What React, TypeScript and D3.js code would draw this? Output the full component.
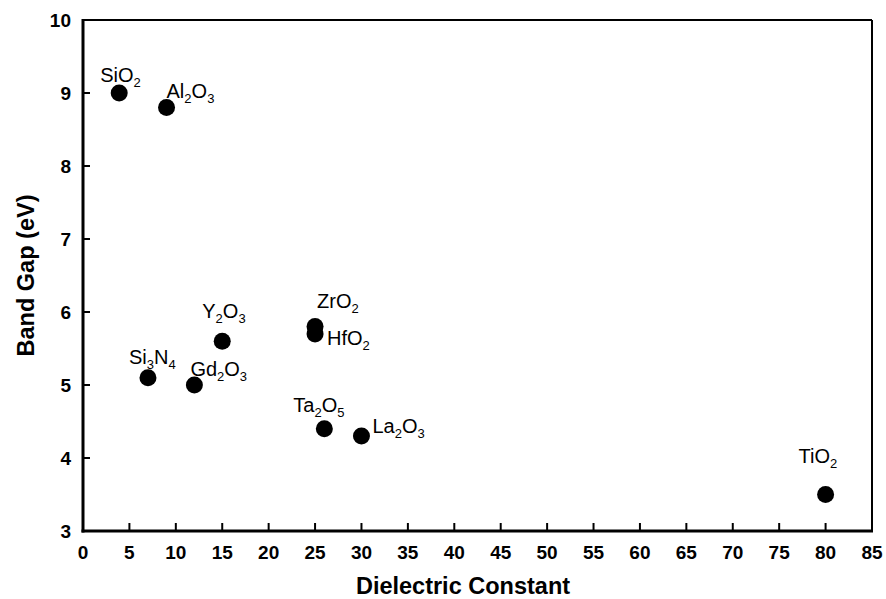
import React from 'react';
import * as d3 from 'd3';

// values
const materials = ['SiO2', 'Al2O3', 'Si3N4', 'Gd2O3', 'Y2O3', 'ZrO2', 'HfO2', 'Ta2O5', 'La2O3', 'TiO2'];
const dielectric = [3.9, 9, 7, 12, 15, 25, 25, 26, 30, 80];
const bandGap = [9.0, 8.8, 5.1, 5.0, 5.6, 5.8, 5.7, 4.4, 4.3, 3.5];
const xTicks = d3.range(0, 86, 5);
const yTicks = d3.range(3, 11, 1);

// label placement relative to each point (px)
const labelOffsets: [number, number][] = [
  [-19, -11], [0, -10], [-19, -14], [-4, -9], [-20, -23],
  [2, -19], [12, 11], [-31, -17], [11, -3], [-27, -32],
];

const width = 886;
const height = 599;
const margin = { top: 20, right: 14, bottom: 68, left: 83 };
const font = 'Arial, "Liberation Sans", sans-serif';

// split "Al2O3" into [text, isSub] runs
const parts = (s: string) => (s.match(/\d+|\D+/g) || []).map(p => [p, /\d/.test(p)] as [string, boolean]);

const Formula = ({ name, x, y }: { name: string; x: number; y: number }) => {
  const runs = parts(name);
  let shift = 0;
  return (
    <text x={x} y={y} fontFamily={font} fontSize={20} fill="#000">
      {runs.map(([t, sub], i) => {
        const target = sub ? 5 : 0;
        const dy = target - shift;
        shift = target;
        return (
          <tspan key={i} dy={dy} fontSize={sub ? 13 : 20}>{t}</tspan>
        );
      })}
    </text>
  );
};

const App = () => {
  const x = d3.scaleLinear().domain([0, 85]).range([margin.left, width - margin.right]);
  const y = d3.scaleLinear().domain([3, 10]).range([height - margin.bottom, margin.top]);
  const [x0, x1] = x.range();
  const [y0, y1] = y.range();

  return (
    <svg width={width} height={height} style={{ position: 'absolute', left: 0, top: 0, background: '#fff' }}>
      {/* frame */}
      <line x1={x0} x2={x1} y1={y1} y2={y1} stroke="#000" strokeWidth={2} />
      <line x1={x1} x2={x1} y1={y1} y2={y0} stroke="#000" strokeWidth={2} />
      <line x1={x0} x2={x0} y1={y1 - 1} y2={y0 + 1.5} stroke="#000" strokeWidth={3} />
      <line x1={x0 - 1.5} x2={x1 + 1} y1={y0} y2={y0} stroke="#000" strokeWidth={3} />

      {/* x ticks */}
      {xTicks.map(t => (
        <g key={'x' + t}>
          {t > 0 && t < 85 && (
            <line x1={x(t)} x2={x(t)} y1={y0} y2={y0 - 8} stroke="#000" strokeWidth={2} />
          )}
          <text x={x(t)} y={y0 + 28} textAnchor="middle" fontFamily={font} fontWeight="bold" fontSize={19}>
            {t}
          </text>
        </g>
      ))}

      {/* y ticks */}
      {yTicks.map(t => (
        <g key={'y' + t}>
          {t > 3 && t < 10 && (
            <line x1={x0} x2={x0 + 7} y1={y(t)} y2={y(t)} stroke="#000" strokeWidth={2} />
          )}
          <text x={71} y={y(t)} dy="0.36em" textAnchor="end" fontFamily={font} fontWeight="bold" fontSize={19}>
            {t}
          </text>
        </g>
      ))}

      {/* axis titles */}
      <text x={463} y={594} textAnchor="middle" fontFamily={font} fontWeight="bold" fontSize={23.5}>
        Dielectric Constant
      </text>
      <text
        transform={`translate(34,${(y0 + y1) / 2}) rotate(-90)`}
        textAnchor="middle"
        fontFamily={font}
        fontWeight="bold"
        fontSize={23.5}
      >
        Band Gap (eV)
      </text>

      {/* points */}
      {materials.map((m, i) => (
        <circle key={m} cx={x(dielectric[i])} cy={y(bandGap[i])} r={8.5} fill="#000" />
      ))}

      {/* labels */}
      {materials.map((m, i) => (
        <Formula
          key={'l' + m}
          name={m}
          x={x(dielectric[i]) + labelOffsets[i][0]}
          y={y(bandGap[i]) + labelOffsets[i][1]}
        />
      ))}
    </svg>
  );
};

export default App;
